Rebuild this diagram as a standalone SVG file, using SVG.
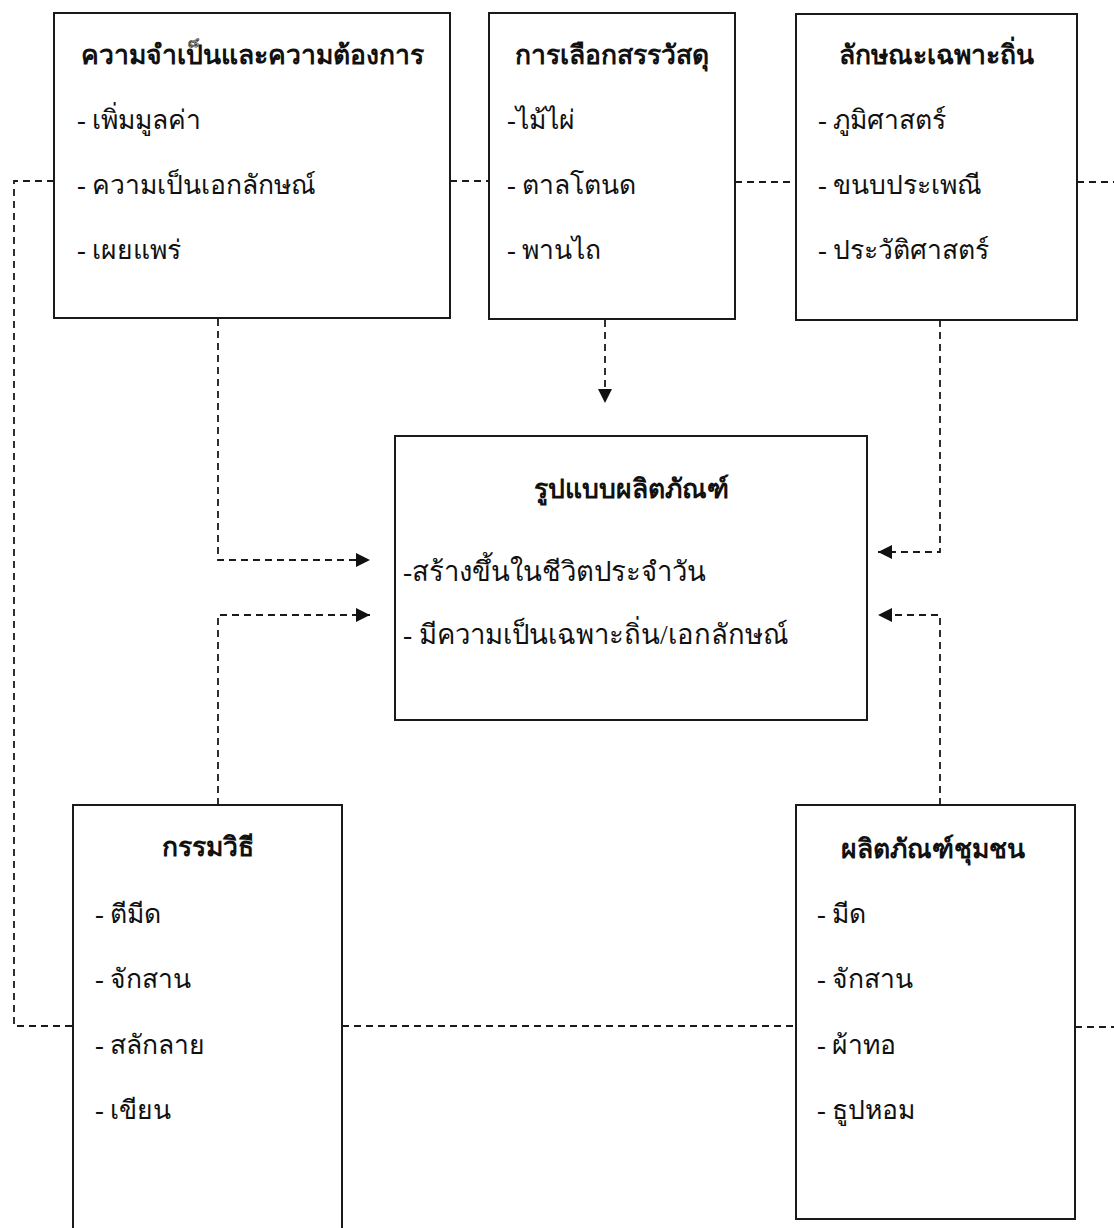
<svg xmlns="http://www.w3.org/2000/svg" width="1114" height="1228" viewBox="0 0 1114 1228">
<style>
.box{fill:none;stroke:#1a1a1a;stroke-width:2}
.c{fill:none;stroke:#1a1a1a;stroke-width:1.8;stroke-dasharray:7 5}
text{font-family:"Liberation Serif","Noto Sans","DejaVu Sans",serif;fill:#111}
.h{font-size:26.5px;font-weight:bold;text-anchor:middle}
.i{font-size:26.5px}
</style>
<defs>
<marker id="ah" markerUnits="userSpaceOnUse" markerWidth="16" markerHeight="14" refX="14" refY="7" orient="auto">
<path d="M0,0 L14,7 L0,14 Z" fill="#111"/>
</marker>
</defs>
<rect width="1114" height="1228" fill="#fff"/>
<g id="connectors">
<path class="c" d="M218,319 V560 H370" marker-end="url(#ah)"/>
<path class="c" d="M218,805 V615 H370" marker-end="url(#ah)"/>
<path class="c" d="M940,320 V552 H878" marker-end="url(#ah)"/>
<path class="c" d="M940,805 V615 H878" marker-end="url(#ah)"/>
<path class="c" d="M605,320 V403" marker-end="url(#ah)"/>
<path class="c" d="M54,181 H14 V1026 H73"/>
<path class="c" d="M450,181 H489"/>
<path class="c" d="M735,182 H796"/>
<path class="c" d="M1077,182 H1114"/>
<path class="c" d="M342,1026 H796"/>
<path class="c" d="M1075,1027 H1114"/>
</g>
<g id="need">
<rect class="box" x="54" y="13" width="396" height="305"/>
<text class="h" x="252" y="64">ความจำเป็นและความต้องการ</text>
<text class="i" x="77" y="129">- เพิ่มมูลค่า</text>
<text class="i" x="77" y="194">- ความเป็นเอกลักษณ์</text>
<text class="i" x="77" y="259">- เผยแพร่</text>
</g>
<g id="material">
<rect class="box" x="489" y="13" width="246" height="306"/>
<text class="h" x="612" y="64">การเลือกสรรวัสดุ</text>
<text class="i" x="507" y="129">-ไม้ไผ่</text>
<text class="i" x="507" y="194">- ตาลโตนด</text>
<text class="i" x="507" y="259">- พานไถ</text>
</g>
<g id="local">
<rect class="box" x="796" y="14" width="281" height="306"/>
<text class="h" x="936" y="64">ลักษณะเฉพาะถิ่น</text>
<text class="i" x="818" y="129">- ภูมิศาสตร์</text>
<text class="i" x="818" y="194">- ขนบประเพณี</text>
<text class="i" x="818" y="259">- ประวัติศาสตร์</text>
</g>
<g id="form">
<rect class="box" x="395" y="436" width="472" height="284"/>
<text class="h" x="631" y="498">รูปแบบผลิตภัณฑ์</text>
<text class="i" x="403" y="581" style="font-size:27.5px">-สร้างขึ้นในชีวิตประจำวัน</text>
<text class="i" x="403" y="644" style="font-size:27.5px">- มีความเป็นเฉพาะถิ่น/เอกลักษณ์</text>
</g>
<g id="method">
<rect class="box" x="73" y="805" width="269" height="440"/>
<text class="h" x="208" y="856">กรรมวิธี</text>
<text class="i" x="95" y="923">- ตีมีด</text>
<text class="i" x="95" y="988">- จักสาน</text>
<text class="i" x="95" y="1054">- สลักลาย</text>
<text class="i" x="95" y="1119">- เขียน</text>
</g>
<g id="community">
<rect class="box" x="796" y="805" width="279" height="414"/>
<text class="h" x="933" y="858">ผลิตภัณฑ์ชุมชน</text>
<text class="i" x="817" y="923">- มีด</text>
<text class="i" x="817" y="988">- จักสาน</text>
<text class="i" x="817" y="1054">- ผ้าทอ</text>
<text class="i" x="817" y="1119">- ธูปหอม</text>
</g>
</svg>
